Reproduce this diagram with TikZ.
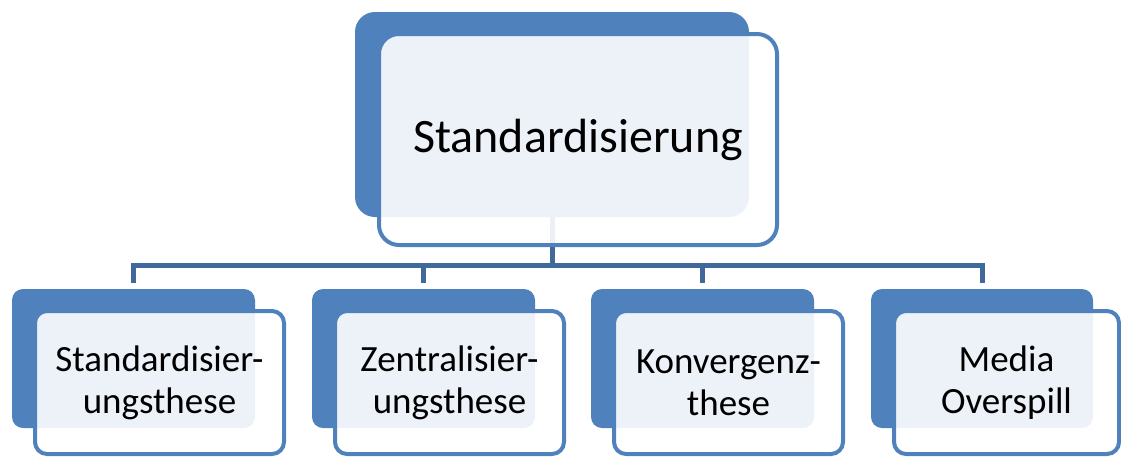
\documentclass[tikz,border=0pt]{standalone}
\usepackage{fontspec}
\setmainfont{Carlito}
\usepackage{tikz}
\definecolor{boxblue}{HTML}{4F81BD}
\definecolor{linkblue}{HTML}{41689A}

\begin{document}
\begin{tikzpicture}[x=1pt, y=-1pt,
    back/.style = {fill=boxblue, rounded corners=11pt, inner sep=0pt, minimum height=139pt},
    front/.style = {draw=boxblue, line width=4pt, fill=white, fill opacity=0.9, text opacity=1,
      rounded corners=12pt, inner sep=0pt, minimum height=143pt, align=center,
      font=\fontsize{37}{42}\selectfont},
    link/.style = {draw=linkblue, line width=5pt}]
    \useasboundingbox (0,0) rectangle (1121,456);
    % Nodes

    \node[back, minimum width=394pt, minimum height=205pt, rounded corners=20pt] (t) at (552,114.5) {};
    \node[back, minimum width=243pt] (1) at (133.5,358.5) {};
    \node[back, minimum width=223pt] (2) at (423.5,358.5) {};
    \node[back, minimum width=223pt] (3) at (702.5,358.5) {};
    \node[back, minimum width=222pt] (4) at (982,358.5) {};
    \coordinate (bus) at (552,265.5);

    % Edges

    \draw[link] (t.south) -- (bus);
    \draw[link] ([yshift=6pt]1.north) |- (bus) -| ([yshift=6pt]4.north);
    \draw[link] ([yshift=6pt]2.north) -- (2.north |- bus);
    \draw[link] ([yshift=6pt]3.north) -- (3.north |- bus);

    % Front boxes

    \node[front, minimum width=398pt, minimum height=211pt, rounded corners=20pt,
      font=\fontsize{48}{56}\selectfont] (tf) at (578,139.5) {Standardisierung};
    \node[front, minimum width=249pt] (1f) at (159.5,382.5) {Standardisier-\\ungsthese};
    \node[front, minimum width=229pt] (2f) at (449.5,382.5) {Zentralisier-\\ungsthese};
    \node[front, minimum width=229pt] (3f) at (728.5,382.5) {Konvergenz-\\these};
    \node[front, minimum width=225pt] (4f) at (1006.5,382.5) {Media\\Overspill};

\end{tikzpicture}
\end{document}
